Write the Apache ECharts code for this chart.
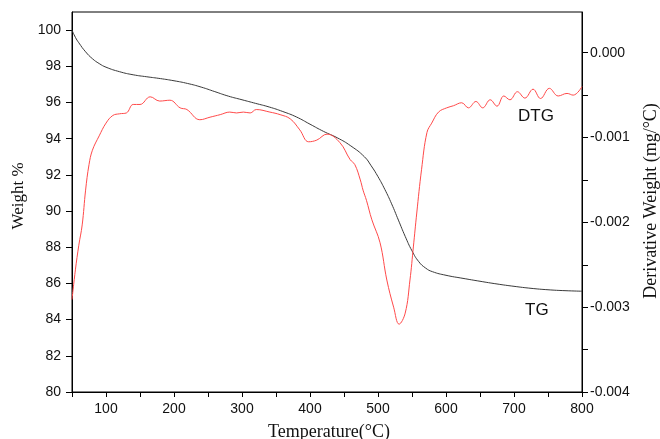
<!DOCTYPE html>
<html>
<head>
<meta charset="utf-8">
<script src="https://cdn.jsdelivr.net/npm/echarts@6/dist/echarts.min.js"></script>
<style>
  html, body { margin: 0; padding: 0; background: #fff; }
  #chart { width: 660px; height: 439px; }
</style>
</head>
<body>
<div id="chart"></div>
<script>
// TG curve (weight %)
const tgTemp = [50, 55, 60, 70, 80, 90, 100, 120, 140, 160, 180, 200, 220, 240, 260, 280, 300, 320, 340, 360,
  380, 400, 420, 440, 460, 480, 490, 500, 510, 520, 530, 540, 550, 560, 570, 580, 600, 625, 650, 675,
  700, 725, 750, 775, 800];
const tgWeight = [100.0, 99.6, 99.3, 98.8, 98.42, 98.15, 97.95, 97.7, 97.53, 97.42, 97.32, 97.2, 97.05, 96.85, 96.6, 96.35, 96.15, 95.95, 95.75, 95.5,
  95.2, 94.8, 94.4, 94.05, 93.6, 93.0, 92.5, 91.9, 91.2, 90.4, 89.5, 88.6, 87.8, 87.2, 86.85, 86.65, 86.45, 86.28, 86.12, 85.97,
  85.84, 85.73, 85.65, 85.6, 85.57];

// DTG curve (mg/°C)
const dtgTemp = [50, 55, 60, 65, 70, 75, 80, 90, 100, 110, 120, 130, 140, 150, 165, 179, 194, 209, 219, 238,
  253, 268, 282, 292, 302, 312, 321, 341, 356, 371, 385, 398, 410, 425, 444, 459, 466, 474, 478, 483,
  491, 503, 513, 523, 531, 540, 547, 552, 557, 564, 572, 579, 589, 601, 611, 623, 633, 644, 654, 665,
  675, 685, 694, 705, 716, 728, 739, 752, 765, 778, 787, 800];
const dtgRate = [-0.00291, -0.00256, -0.00227, -0.00203, -0.00162, -0.00132, -0.00115, -0.00098, -0.00083, -0.00074,
  -0.00072, -0.00071, -0.00061, -0.00061, -0.00052, -0.00057, -0.00056, -0.00065, -0.00067, -0.00079,
  -0.00076, -0.00073, -0.00070, -0.00071, -0.00070, -0.00071, -0.00067, -0.00070, -0.00073, -0.00078,
  -0.00091, -0.00105, -0.00103, -0.00096, -0.00106, -0.00126, -0.00132, -0.00150, -0.00162, -0.00174,
  -0.00197, -0.00224, -0.00268, -0.00300, -0.00320, -0.00307, -0.00268, -0.00229, -0.00189, -0.00138,
  -0.00094, -0.00083, -0.00070, -0.00065, -0.000625, -0.00059, -0.00065, -0.000575, -0.00065, -0.000555,
  -0.00063, -0.00051, -0.000555, -0.00046, -0.000535, -0.00043, -0.00054, -0.00042, -0.00051, -0.00048,
  -0.00050, -0.00040];

const weightTicks = [80, 82, 84, 86, 88, 90, 92, 94, 96, 98, 100];
const rateLabels = [-0.004, -0.003, -0.002, -0.001, 0];
const rateTicks = [-0.004, -0.0035, -0.003, -0.0025, -0.002, -0.0015, -0.001, -0.0005, 0];

const chart = echarts.init(document.getElementById('chart'));

const sans = 'Liberation Sans, Arial, sans-serif';
const serif = 'Liberation Serif, Times New Roman, serif';

const option = {
  backgroundColor: '#fff',
  animation: false,
  grid: {
    left: 72, right: 78, top: 12, bottom: 47,
    show: true, borderColor: '#000', borderWidth: 1
  },
  xAxis: {
    type: 'value',
    min: 50, max: 800, interval: 50,
    axisLine: { show: true, onZero: false, lineStyle: { color: '#000', width: 1 } },
    axisTick: { show: true, length: 5, lineStyle: { color: '#000' } },
    axisLabel: {
      color: '#111', fontFamily: sans, fontSize: 14, margin: 10,
      formatter: v => (v % 100 === 0 ? String(v) : '')
    },
    splitLine: { show: false }
  },
  yAxis: [
    {
      type: 'value',
      position: 'left',
      min: 80, max: 101,
      axisLine: { show: true, onZero: false, lineStyle: { color: '#000', width: 1 } },
      axisTick: { show: true, length: 6, customValues: weightTicks, lineStyle: { color: '#000' } },
      axisLabel: { color: '#111', fontFamily: sans, fontSize: 14, margin: 11, customValues: weightTicks },
      splitLine: { show: false }
    },
    {
      type: 'value',
      position: 'right',
      min: -0.004, max: 0.00048,
      axisLine: { show: true, onZero: false, lineStyle: { color: '#000', width: 1 } },
      axisTick: { show: true, length: 6, customValues: rateTicks, lineStyle: { color: '#000' } },
      axisLabel: {
        color: '#111', fontFamily: sans, fontSize: 14, margin: 8, customValues: rateLabels,
        formatter: v => v.toFixed(3)
      },
      splitLine: { show: false }
    }
  ],
  series: [
    {
      name: 'TG',
      type: 'line',
      yAxisIndex: 0,
      data: tgTemp.map((t, i) => [t, tgWeight[i]]),
      smooth: true,
      showSymbol: false,
      lineStyle: { color: '#3a3a3a', width: 1 }
    },
    {
      name: 'DTG',
      type: 'line',
      yAxisIndex: 1,
      data: dtgTemp.map((t, i) => [t, dtgRate[i]]),
      smooth: 0.4,
      showSymbol: false,
      lineStyle: { color: '#ff4a4a', width: 1 }
    }
  ],
  graphic: [
    { type: 'text', left: 518, top: 108, style: { text: 'DTG', font: '17px ' + sans, fill: '#111' } },
    { type: 'text', left: 525, top: 302, style: { text: 'TG', font: '17px ' + sans, fill: '#111' } },
    {
      type: 'text', x: 329, y: 432,
      style: { text: 'Temperature(°C)', font: '18px ' + serif, fill: '#111', align: 'center', verticalAlign: 'middle' }
    },
    {
      type: 'text', x: 19, y: 196, rotation: Math.PI / 2,
      style: { text: 'Weight %', font: '17px ' + serif, fill: '#111', align: 'center', verticalAlign: 'middle' }
    },
    {
      type: 'text', x: 651, y: 201, rotation: Math.PI / 2,
      style: { text: 'Derivative Weight (mg/°C)', font: '18px ' + serif, fill: '#111', align: 'center', verticalAlign: 'middle' }
    }
  ]
};

chart.setOption(option);
</script>
</body>
</html>
